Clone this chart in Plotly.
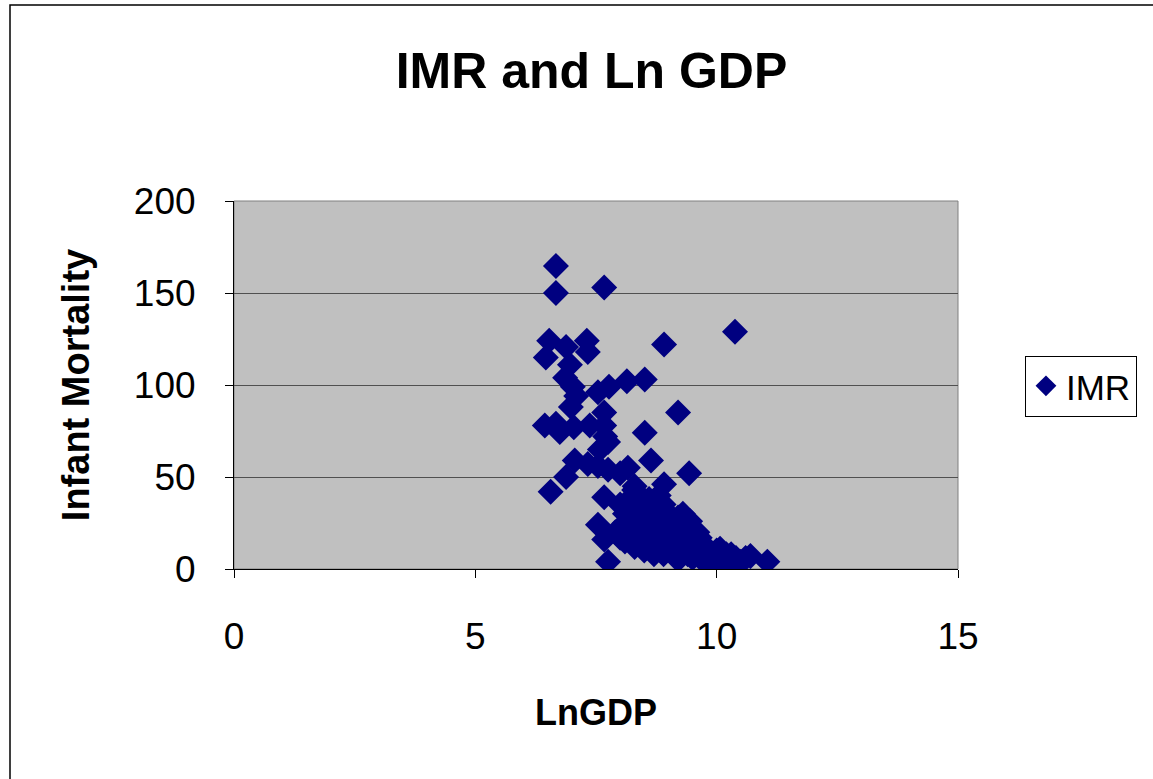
import plotly.graph_objects as go

# LnGDP values
ln_gdp = [
    6.67, 6.67, 7.67, 10.38, 8.91, 6.53, 7.31, 6.88, 7.33, 6.46,
    6.96, 6.86, 7.02, 7.77, 7.09, 7.54, 8.14, 8.51, 6.98, 9.20,
    7.67, 6.44, 6.67, 6.75, 7.04, 7.37, 7.67, 7.69, 8.51, 7.75,
    7.58, 7.06, 8.64, 7.33, 7.54, 8.16, 7.75, 8.00, 9.43, 6.88,
    6.56, 8.91, 7.67, 8.29, 8.16, 7.54, 7.67, 7.75,
    8.00, 8.10, 8.20, 8.30, 8.20, 8.00, 8.10, 8.30, 8.40, 8.50,
    8.50, 8.60, 8.60, 8.70, 8.70, 8.80, 8.80, 8.90, 8.90, 8.90,
    9.00, 9.00, 9.00, 9.10, 9.10, 9.20, 9.20, 9.30, 9.30, 9.40,
    9.40, 9.50, 9.50, 9.60, 9.60, 9.70, 9.70, 9.80, 9.80, 9.90,
    10.00, 10.00, 10.10, 10.10, 10.20, 10.30, 10.40, 10.40, 10.50, 10.60,
    10.70, 11.05, 8.40, 8.30, 8.50, 8.70, 9.00, 9.20, 8.60, 8.80,
    9.30, 9.50, 7.90, 8.10, 8.30, 8.90, 9.40, 10.20, 9.90, 10.30,
    9.45, 9.65, 10.07, 10.35, 8.45, 8.75, 9.05, 9.15,
]

# Infant mortality rate values
imr = [
    164.7, 150, 153, 129, 122, 124, 124, 120.7, 118, 115,
    111, 104, 99, 99, 94, 96, 102, 103, 88, 85,
    85, 78, 79, 74.5, 77, 78, 78, 72, 74, 69,
    65, 59, 59, 57, 56, 55, 54, 52, 52, 50,
    42, 46, 39, 43, 36, 24, 16, 4,
    35, 30, 38, 28, 20, 17, 15, 12, 22, 30,
    18, 25, 14, 33, 20, 28, 12, 35, 22, 8,
    30, 18, 25, 14, 22, 10, 28, 18, 8, 15,
    24, 12, 6, 20, 9, 14, 5, 10, 6, 8,
    5, 10, 6, 4, 8, 5, 3, 6, 4, 6,
    7, 4, 40, 45, 10, 8, 12, 5, 38, 40,
    30, 22, 20, 25, 35, 16, 8, 3, 4, 8,
    26, 17, 11, 2, 27, 24, 20, 16,
]

fig = go.Figure()
fig.add_trace(go.Scatter(
    x=ln_gdp, y=imr, mode="markers", name="IMR",
    marker=dict(symbol="diamond", size=20, color="#000080",
                line=dict(width=0)),
))

font = "Arial, Liberation Sans, sans-serif"

fig.update_layout(
    width=1153, height=779,
    margin=dict(l=234, r=195, t=201, b=210),
    paper_bgcolor="white",
    plot_bgcolor="#C0C0C0",
    showlegend=True,
    title=dict(text="<b>IMR and Ln GDP</b>", x=0.513, xanchor="center",
               y=0.91, yanchor="middle",
               font=dict(family=font, size=50, color="black")),
    legend=dict(x=1.0925, y=0.497, xanchor="left", yanchor="middle",
                bgcolor="white", bordercolor="black", borderwidth=1,
                font=dict(family=font, size=35, color="black"),
                itemsizing="trace"),
    font=dict(family=font, color="black"),
)

fig.update_xaxes(
    range=[0, 15], tickvals=[0, 5, 10, 15], showgrid=False, zeroline=False,
    showline=True, linecolor="black", linewidth=1,
    ticks="outside", ticklen=8, tickcolor="black",
    tickfont=dict(family=font, size=37), ticklabelstandoff=27,
    title=dict(text="<b>LnGDP</b>", font=dict(family=font, size=36), standoff=43),
)
fig.update_yaxes(
    range=[0, 200], tickvals=[0, 50, 100, 150, 200], showgrid=True,
    gridcolor="#505050", gridwidth=1, zeroline=False,
    showline=True, linecolor="black", linewidth=1,
    ticks="outside", ticklen=8, tickcolor="black",
    tickfont=dict(family=font, size=37), ticklabelstandoff=22,
    title=dict(text="<b>Infant Mortality</b>", font=dict(family=font, size=38), standoff=32),
)

# plot area border and outer chart border
fig.add_shape(type="rect", xref="paper", yref="paper", x0=0, y0=0, x1=1, y1=1,
              line=dict(color="#808080", width=1), layer="below")
fig.add_shape(type="rect", xref="paper", yref="paper",
              x0=(10 - 234) / 724, y0=-1.0, x1=2.0, y1=(569 - 5) / 368,
              line=dict(color="black", width=1.5))

fig.write_html("out.html", config={"displayModeBar": False},
               post_script="document.body.style.margin='0';")
